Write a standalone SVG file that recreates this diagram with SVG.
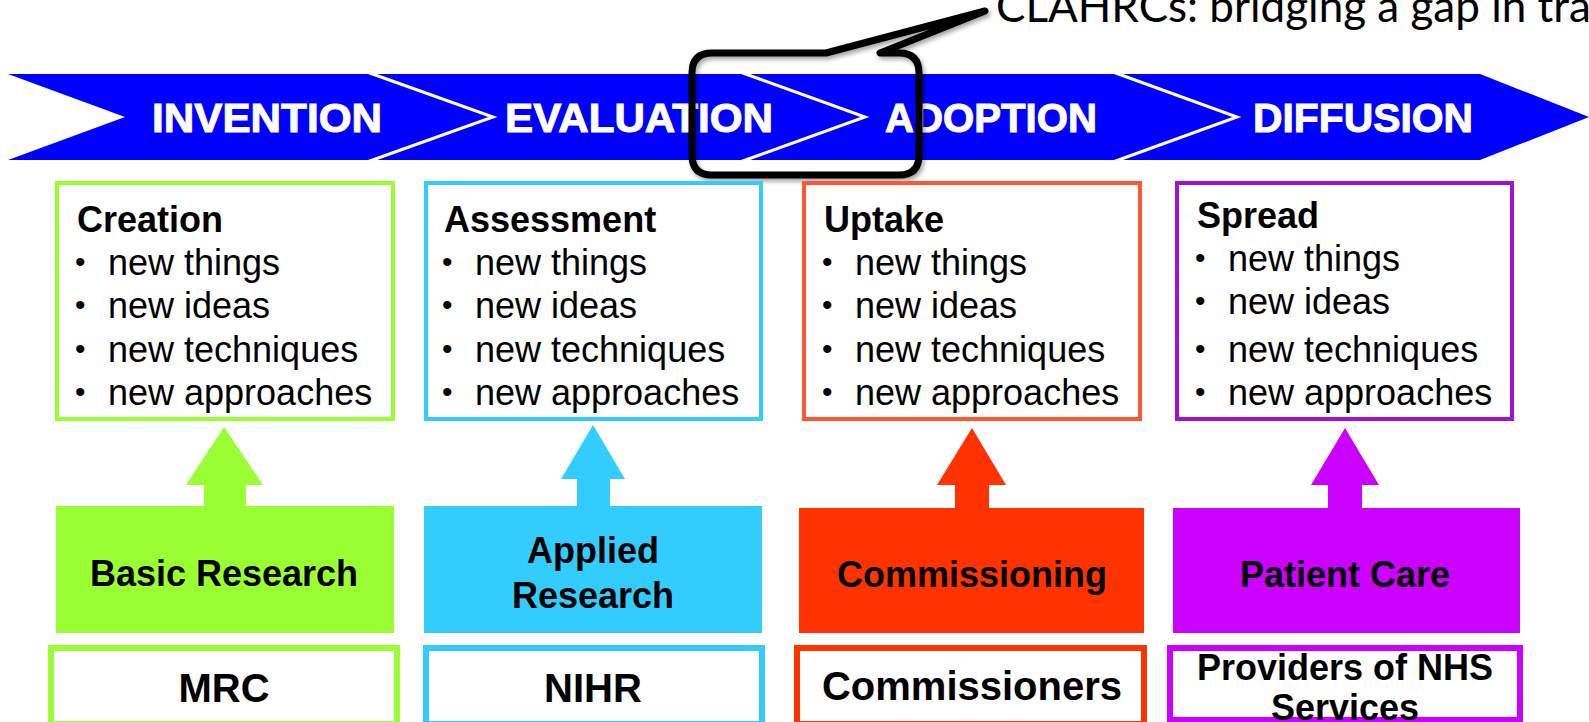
<svg xmlns="http://www.w3.org/2000/svg" width="1589" height="722" viewBox="0 0 1589 722">
<style>
.band-t{font-family:"Liberation Sans",Arial,sans-serif;font-weight:bold;font-size:40px;fill:#fff;stroke:#fff;stroke-width:1}
.hd{font-family:"Liberation Sans",Arial,sans-serif;font-weight:bold;font-size:36px;fill:#000}
.li{font-family:"Liberation Sans",Arial,sans-serif;font-size:36px;fill:#000}
.bu{font-family:"Liberation Sans",Arial,sans-serif;font-size:30px;fill:#000}
.lab{font-family:"Liberation Sans",Arial,sans-serif;font-weight:bold;font-size:36px;fill:#000;text-anchor:middle}
.org{font-family:"Liberation Sans",Arial,sans-serif;font-weight:bold;font-size:40px;fill:#000;text-anchor:middle}
.cap{font-family:Lato,"Open Sans",sans-serif;font-size:44px;fill:#000}
.chev{fill:none;stroke:#fff;stroke-width:3}
.box{fill:#fff;stroke-width:4}
.obox{fill:#fff;stroke-width:6}
</style>
<defs>
<filter id="sh" x="-10%" y="-10%" width="130%" height="130%">
<feDropShadow dx="2" dy="3" stdDeviation="2" flood-color="#000" flood-opacity="0.35"/>
</filter>
</defs>

<g id="band">
<polygon points="8,74 1480,74 1589,117 1480,160 8,160 125,117" fill="#0000FF"/>
<polyline class="chev" points="367,72 493,117 367,162"/>
<polyline class="chev" points="740,72 865,117 740,162"/>
<polyline class="chev" points="1113,72 1237,117 1113,162"/>
<text class="band-t" x="152" y="132" textLength="230" lengthAdjust="spacingAndGlyphs">INVENTION</text>
<text class="band-t" x="505" y="132" textLength="268" lengthAdjust="spacingAndGlyphs">EVALUATION</text>
<text class="band-t" x="885" y="132" textLength="212" lengthAdjust="spacingAndGlyphs">ADOPTION</text>
<text class="band-t" x="1253" y="132" textLength="220" lengthAdjust="spacingAndGlyphs">DIFFUSION</text>
</g>

<g id="callout">
<path d="M712,53 L826,53 L985,11 L880,53 L899,53 Q919,53 919,73 L919,155 Q919,175 899,175 L712,175 Q692,175 692,155 L692,73 Q692,53 712,53 Z" fill="none" stroke="#000" stroke-width="7" stroke-linejoin="round" filter="url(#sh)"/>
<text class="cap" x="996" y="22">CLAHRCs: bridging a gap in tra</text>
</g>

<g id="creation">
<rect class="box" x="57" y="183" width="336" height="236" stroke="#99FF33"/>
<text class="hd" x="77" y="232">Creation</text>
<text class="bu" x="75" y="272">•</text><text class="li" x="108" y="275">new things</text>
<text class="bu" x="75" y="315">•</text><text class="li" x="108" y="318">new ideas</text>
<text class="bu" x="75" y="359">•</text><text class="li" x="108" y="362">new techniques</text>
<text class="bu" x="75" y="402">•</text><text class="li" x="108" y="405">new approaches</text>
</g>

<g id="assessment">
<rect class="box" x="426" y="183" width="335" height="236" stroke="#33CCFF"/>
<text class="hd" x="444" y="232">Assessment</text>
<text class="bu" x="442" y="272">•</text><text class="li" x="475" y="275">new things</text>
<text class="bu" x="442" y="315">•</text><text class="li" x="475" y="318">new ideas</text>
<text class="bu" x="442" y="359">•</text><text class="li" x="475" y="362">new techniques</text>
<text class="bu" x="442" y="402">•</text><text class="li" x="475" y="405">new approaches</text>
</g>

<g id="uptake">
<rect class="box" x="804" y="183" width="336" height="236" stroke="#FF5533"/>
<text class="hd" x="824" y="232">Uptake</text>
<text class="bu" x="822" y="272">•</text><text class="li" x="855" y="275">new things</text>
<text class="bu" x="822" y="315">•</text><text class="li" x="855" y="318">new ideas</text>
<text class="bu" x="822" y="359">•</text><text class="li" x="855" y="362">new techniques</text>
<text class="bu" x="822" y="402">•</text><text class="li" x="855" y="405">new approaches</text>
</g>

<g id="spread">
<rect class="box" x="1177" y="183" width="335" height="236" stroke="#A010D8"/>
<text class="hd" x="1197" y="228">Spread</text>
<text class="bu" x="1195" y="268">•</text><text class="li" x="1228" y="271">new things</text>
<text class="bu" x="1195" y="311">•</text><text class="li" x="1228" y="314">new ideas</text>
<text class="bu" x="1195" y="359">•</text><text class="li" x="1228" y="362">new techniques</text>
<text class="bu" x="1195" y="402">•</text><text class="li" x="1228" y="405">new approaches</text>
</g>

<g id="connectors">
<polygon points="224,427 263,485 246,485 246,507 204,507 204,485 186,485" fill="#99FF33"/>
<polygon points="593,425 625,479 610,479 610,507 577,507 577,479 561,479" fill="#33CCFF"/>
<polygon points="972,428 1006,485 989,485 989,509 955,509 955,485 937,485" fill="#FF3300"/>
<polygon points="1345,428 1379,485 1362,485 1362,509 1328,509 1328,485 1311,485" fill="#CC00FF"/>
</g>

<g id="basic-research">
<rect x="56" y="506" width="338" height="127" fill="#99FF33"/>
<text class="lab" x="224" y="586">Basic Research</text>
</g>
<g id="applied-research">
<rect x="424" y="506" width="338" height="127" fill="#33CCFF"/>
<text class="lab" x="593" y="563">Applied</text>
<text class="lab" x="593" y="608">Research</text>
</g>
<g id="commissioning">
<rect x="799" y="508" width="345" height="125" fill="#FF3300"/>
<text class="lab" x="972" y="587">Commissioning</text>
</g>
<g id="patient-care">
<rect x="1173" y="508" width="347" height="125" fill="#CC00FF"/>
<text class="lab" x="1345" y="587">Patient Care</text>
</g>

<g id="mrc">
<rect class="obox" x="51" y="648" width="346" height="76" stroke="#99FF33"/>
<text class="org" x="224" y="702">MRC</text>
</g>
<g id="nihr">
<rect class="obox" x="426" y="648" width="336" height="76" stroke="#33CCFF"/>
<text class="org" x="593" y="702">NIHR</text>
</g>
<g id="commissioners">
<rect class="obox" x="797" y="648" width="347" height="76" stroke="#FF3300"/>
<text class="org" x="972" y="700">Commissioners</text>
</g>
<g id="providers">
<rect class="obox" x="1170" y="648" width="350" height="72" stroke="#CC00FF"/>
<text class="lab" x="1345" y="680">Providers of NHS</text>
<text class="lab" x="1345" y="720">Services</text>
</g>
</svg>
